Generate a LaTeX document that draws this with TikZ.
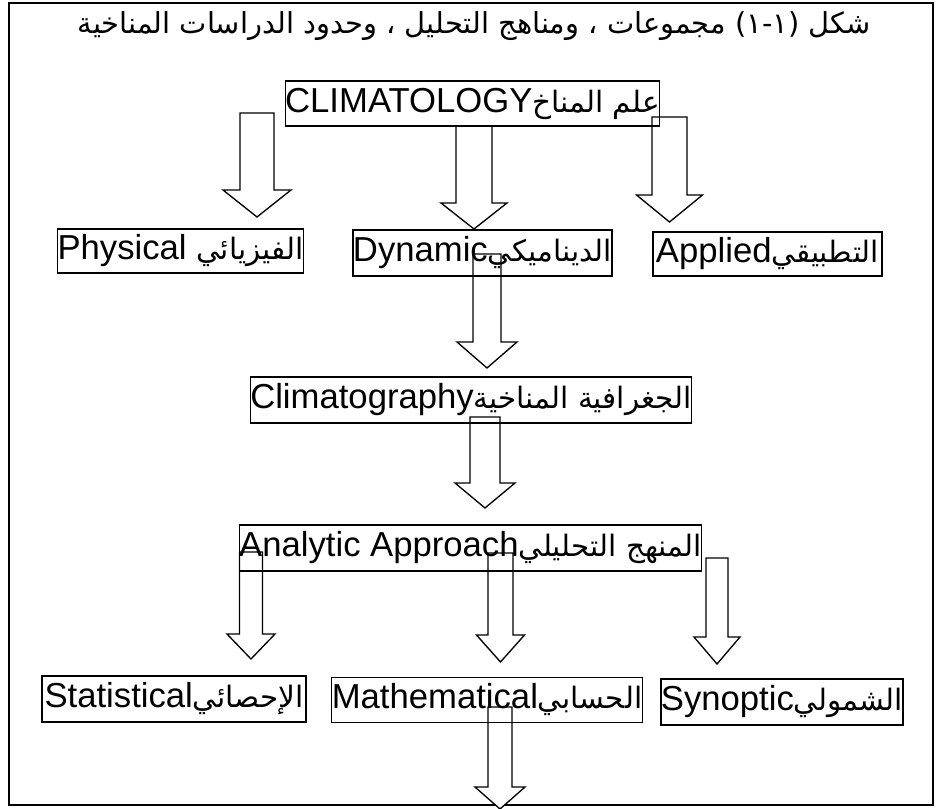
\documentclass[tikz,border=0pt]{standalone}
\usepackage{fontspec}
\setmainfont{Liberation Sans}
\newfontfamily\arabicfont[Script=Arabic,Scale=0.85]{DejaVu Sans}
\TeXXeTstate=1
\usetikzlibrary{calc,backgrounds}

\tikzset{
  box/.style={draw, line width=1pt, inner sep=0pt, font=\fontsize{26}{30}\selectfont},
  heading/.style={inner sep=0pt, font=\fontsize{25.5}{30}\selectfont},
  frame/.style={draw, line width=1pt},
  bigarrow/.style={draw, line width=1pt, fill=white, line join=miter},
}
% Arabic words inside a left-to-right line
\newcommand{\arb}[1]{{\arabicfont\beginR #1\endR}}
% hollow block arrow: top, tip, half shaft, half head, head length
\newcommand{\bigarrow}[5]{%
  \draw[bigarrow] ($(#1)+(-#3,0)$) -- ($(#2)+(-#3,-#5)$) -- ($(#2)+(-#4,-#5)$)
    -- (#2) -- ($(#2)+(#4,-#5)$) -- ($(#2)+(#3,-#5)$) -- ($(#1)+(#3,0)$) -- cycle;}

\begin{document}
\begin{tikzpicture}[x=0.75pt,y=-0.75pt]
    \useasboundingbox (0,0) rectangle (938,809);
    \node[heading] (title) at (474,26) {\arabicfont\beginR شكل (١-١) مجموعات ، ومناهج التحليل ، وحدود الدراسات المناخية\endR};
    % top level
    \node[box, minimum width=274.5pt, minimum height=33.75pt] (clim) at (472.5,103.5) {CLIMATOLOGY\arb{علم المناخ}};
    \node[box, minimum width=177.75pt, minimum height=33pt] (phys) at (180.5,251) {Physical \arb{الفيزيائي}};
    \node[box, minimum width=192.75pt, minimum height=34.5pt] (dyn) at (482.5,253) {Dynamic\arb{الديناميكي}};
    \node[box, minimum width=171.75pt, minimum height=33pt] (appl) at (767.5,254) {Applied\arb{التطبيقي}};
    \node[box, minimum width=325.5pt, minimum height=34.5pt] (climg) at (471,400) {Climatography\arb{الجغرافية المناخية}};
    \node[box, minimum width=333.75pt, minimum height=34.5pt] (anal) at (470.5,548) {Analytic Approach\arb{المنهج التحليلي}};
    % methods
    \node[box, minimum width=198pt, minimum height=34.5pt] (stat) at (174,699) {Statistical\arb{الإحصائي}};
    \node[box, minimum width=224.25pt, minimum height=33.75pt] (math) at (487,700) {Mathematical\arb{الحسابي}};
    \node[box, minimum width=168pt, minimum height=34.5pt] (syn) at (782,702) {Synoptic\arb{الشمولي}};
    % arrow ends
    \coordinate (physTop) at (257,113);   \coordinate (physTip) at (257,217);
    \coordinate (dynTop) at (474,126);    \coordinate (dynTip) at (474,229);
    \coordinate (applTop) at (669.5,117); \coordinate (applTip) at (669.5,222);
    \coordinate (climgTop) at (487,254);  \coordinate (climgTip) at (487,368);
    \coordinate (analTop) at (485,417);   \coordinate (analTip) at (485,508);
    \coordinate (statTop) at (251,552);   \coordinate (statTip) at (251,659);
    \coordinate (mathTop) at (500.5,553); \coordinate (mathTip) at (500.5,662);
    \coordinate (synTop) at (717,558);    \coordinate (synTip) at (717,664);
    \coordinate (nextTop) at (500,707);   \coordinate (nextTip) at (500,809);
    \begin{pgfonlayer}{background}
        \draw[frame] (9,3) rectangle (933,805);
        \bigarrow{physTop}{physTip}{17}{34}{27}
        \bigarrow{dynTop}{dynTip}{18}{33}{26}
        \bigarrow{applTop}{applTip}{17.5}{33}{27}
        \bigarrow{climgTop}{climgTip}{14}{30}{26}
        \bigarrow{analTop}{analTip}{15}{30}{25}
        \bigarrow{statTop}{statTip}{11.5}{24}{25}
        \bigarrow{mathTop}{mathTip}{12.5}{24}{27}
        \bigarrow{synTop}{synTip}{11}{23}{27}
        \bigarrow{nextTop}{nextTip}{12}{25}{22}
    \end{pgfonlayer}
\end{tikzpicture}
\end{document}
